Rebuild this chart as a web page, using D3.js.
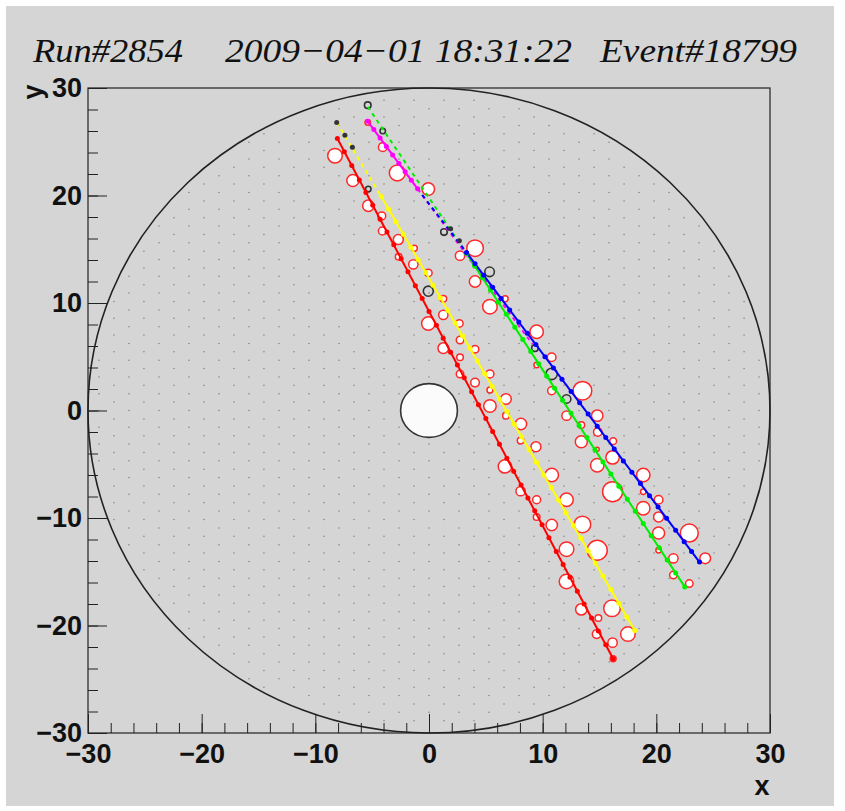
<!DOCTYPE html>
<meta charset="utf-8">
<head>
<script src="https://d3js.org/d3.v7.min.js"></script>
<style>
  body { margin: 0; background: #ffffff; }
  .tick text { font-family: "Liberation Sans", Arial, sans-serif; font-weight: bold; font-size: 27px; fill: #111; }
</style>
</head>
<body>
<svg id="my_dataviz" width="845" height="811"></svg>
<script>
// ---- event data (cm) ----
var titleParts = ["Run#2854", "2009\u221204\u221201 18:31:22", "Event#18799"];
var axisTicks = [-30, -20, -10, 0, 10, 20, 30];

// track fit lines: [start, end]
var redLine = [[-8.06, 25.3], [16.2, -23.1]];
var yellowDashed = [[-8.12, 26.8], [-4.2, 19.9]];
var yellowLine = [[-4.2, 19.9], [18.1, -20.46]];
var greenDashed = [[-5.39, 28.26], [3.3, 14.6]];
var greenLine = [[3.3, 14.6], [22.5, -16.41]];
var magentaLine = [[-5.39, 26.9], [-1.0, 20.62]];
var magentaDashed = [[-1.0, 20.62], [9.1, 6.18]];
var blueDashed = [[-0.6, 20.05], [3.3, 14.7]];
var blueLine = [[3.3, 14.7], [23.8, -14.1]];

// hits on each track
var redHits = [[-8.06,25.3],[-7.45,24.08],[-6.8,22.79],[-6.13,21.45],[-5.55,20.29],[-4.95,19.1],[-4.3,17.8],[-3.7,16.6],
  [-3.1,15.41],[-2.45,14.11],[-1.85,12.91],[-1.2,11.61],[-0.6,10.42],[0.0,9.22],[0.65,7.92],[1.25,6.73],[1.9,5.43],
  [2.5,4.23],[3.1,3.04],[3.75,1.74],[4.35,0.54],[5.0,-0.75],[5.6,-1.95],[6.2,-3.15],[6.85,-4.45],[7.45,-5.64],
  [8.1,-6.94],[8.7,-8.14],[9.3,-9.33],[9.95,-10.63],[10.55,-11.83],[11.2,-13.12],[11.8,-14.32],[12.4,-15.52],
  [13.05,-16.81],[13.65,-18.01],[14.3,-19.31],[14.9,-20.51],[15.55,-21.8],[16.2,-23.1]];
var yellowHits = [[-4.2,19.9],[-3.55,18.72],[-2.9,17.55],[-2.25,16.37],[-1.6,15.19],[-0.95,14.02],[-0.3,12.84],
  [0.35,11.66],[1.0,10.49],[1.65,9.31],[2.3,8.13],[2.95,6.96],[3.6,5.78],[4.25,4.61],[4.9,3.43],[5.55,2.25],
  [6.2,1.08],[6.85,-0.1],[7.5,-1.28],[8.15,-2.45],[8.8,-3.63],[9.45,-4.81],[10.1,-5.98],[10.75,-7.16],[11.4,-8.34],
  [12.05,-9.51],[12.7,-10.69],[13.35,-11.87],[14.0,-13.04],[14.65,-14.22],[15.3,-15.4],[16.0,-16.66],[16.7,-17.93],
  [17.4,-19.2],[18.1,-20.46]];
var greenHits = [[3.3,14.6],[4.0,13.47],[4.7,12.34],[5.4,11.21],[6.1,10.08],[6.8,8.95],[7.55,7.74],[8.25,6.61],
  [8.95,5.48],[9.65,4.34],[10.35,3.21],[11.05,2.08],[11.75,0.95],[12.5,-0.26],[13.2,-1.39],[13.9,-2.52],[14.6,-3.65],
  [15.3,-4.78],[16.0,-5.91],[16.7,-7.04],[17.45,-8.25],[18.15,-9.38],[18.85,-10.51],[19.55,-11.64],[20.25,-12.77],
  [20.95,-13.9],[21.7,-15.12],[22.5,-16.41]];
var blueHits = [[3.3,14.7],[4.05,13.65],[4.8,12.59],[5.6,11.47],[6.35,10.42],[7.1,9.36],[7.9,8.24],[8.65,7.18],
  [9.4,6.13],[10.2,5.01],[10.95,3.95],[11.7,2.9],[12.5,1.77],[13.25,0.72],[14.0,-0.33],[14.8,-1.46],[15.55,-2.51],
  [16.3,-3.57],[17.1,-4.69],[17.85,-5.74],[18.6,-6.8],[19.4,-7.92],[20.15,-8.97],[20.9,-10.03],[21.7,-11.15],
  [22.45,-12.21],[23.1,-13.12],[23.8,-14.1]];
var magentaHits = [[-5.39,26.9],[-4.85,26.13],[-4.3,25.34],[-3.75,24.56],[-3.2,23.77],[-2.65,22.98],[-2.1,22.2],
  [-1.55,21.41],[-1.0,20.62]];
var blackHits = [[-8.12,26.8],[-6.74,24.5],[2.67,15.8],[1.9,16.9],[-7.4,25.6]];

// drift circles [x, y, radius]
var redCircles = [[-8.27,23.7,0.64],[-4.07,24.5,0.38],[-5.39,26.8,0.24],[-2.79,22.1,0.70],[-6.7,21.4,0.53],
  [-0.06,20.6,0.55],[-5.34,19.05,0.50],[-4.16,18.1,0.35],[-4.1,16.7,0.35],[-2.7,15.9,0.44],[-1.29,15.1,0.26],
  [-2.67,14.3,0.29],[-1.38,13.6,0.41],[4.05,15.1,0.73],[2.73,14.4,0.41],[4.05,12.0,0.50],[5.36,9.66,0.64],
  [-0.06,12.8,0.33],[1.26,10.4,0.29],[-0.06,8.1,0.59],[1.26,8.9,0.41],[2.67,8.1,0.33],[2.73,6.56,0.33],
  [1.26,5.8,0.47],[4.05,5.7,0.33],[2.73,4.95,0.29],[2.73,3.4,0.33],[4.05,2.6,0.38],[5.36,3.4,0.35],[5.36,1.9,0.26],
  [6.77,1.07,0.47],[5.36,0.42,0.55],[6.77,-0.48,0.29],[8.09,-1.26,0.50],[8.06,-2.8,0.29],[9.41,-3.37,0.44],
  [9.47,7.33,0.59],[9.47,4.23,0.24],[10.79,4.95,0.38],[10.79,1.84,0.35],[13.5,1.84,0.82],[12.1,-0.48,0.41],
  [14.8,-0.48,0.50],[13.4,-2.9,0.53],[14.85,-2.0,0.37],[16.2,-2.85,0.30],[13.4,-1.35,0.29],[14.8,-3.6,0.18],
  [16.15,-4.36,0.59],[14.8,-5.1,0.59],[18.85,-6.0,0.59],[16.15,-7.55,0.88],[18.85,-7.55,0.24],[20.2,-8.3,0.38],
  [18.85,-9.1,0.59],[20.2,-9.9,0.44],[20.2,-11.4,0.53],[22.9,-11.4,0.79],[20.2,-13.0,0.24],[21.5,-13.75,0.41],
  [24.3,-13.75,0.47],[21.5,-15.3,0.33],[22.9,-16.1,0.33],[12.1,-8.3,0.59],[13.5,-10.6,0.73],[12.1,-12.9,0.64],
  [14.8,-13.0,0.88],[12.1,-15.9,0.64],[6.68,-5.2,0.59],[10.8,-6.0,0.59],[8.06,-7.5,0.41],[9.47,-8.3,0.35],
  [9.47,-9.9,0.29],[10.8,-10.65,0.50],[13.4,-18.5,0.50],[16.1,-18.4,0.73],[14.9,-19.3,0.29],[14.75,-20.8,0.38],
  [17.5,-20.8,0.64],[16.15,-21.6,0.41],[16.2,-23.1,0.26],[6.7,10.4,0.26]];
var blackCircles = [[-5.39,28.4,0.29],[-4.07,26.0,0.24],[-5.34,20.6,0.24],[1.32,16.6,0.29],[5.33,12.9,0.42],
  [-0.06,11.1,0.44],[9.32,5.8,0.29],[10.79,3.4,0.5],[12.1,1.07,0.38]];

var chamberRadius = 30, holeRadius = 2.5;

// ---- drawing ----
var svg = d3.select("svg");

svg.append("rect").attr("x", 6).attr("y", 6).attr("width", 828).attr("height", 800)
  .attr("fill", "#d5d5d5");

var x = d3.scaleLinear().domain([-30, 30]).range([88, 770]);
var y = d3.scaleLinear().domain([-30, 30]).range([733, 88]);
var rx = function(r) { return x(r) - x(0); };
var ry = function(r) { return y(0) - y(r); };

// title (three pieces, stretched like the original)
var titleX = [33, 225, 600];
var titleW = [150, 347, 197];
svg.selectAll(".title").data(titleParts).enter().append("text")
  .attr("class", "title")
  .attr("x", function(d, i) { return titleX[i]; })
  .attr("y", 62)
  .attr("textLength", function(d, i) { return titleW[i]; })
  .attr("lengthAdjust", "spacingAndGlyphs")
  .style("font-family", "'Liberation Serif', 'Times New Roman', serif")
  .style("font-style", "italic")
  .style("font-size", "34px")
  .attr("fill", "#111")
  .text(function(d) { return d; });

// wire grid (hexagonal) inside chamber
var wires = [];
var colStep = 1.32, rowStep = 1.56;
for (var i = -24; i <= 24; i++) {
  for (var j = -21; j <= 21; j++) {
    var wx = i * colStep, wy = j * rowStep + (i % 2 ? rowStep / 2 : 0);
    var rr = Math.sqrt(wx * wx + wy * wy);
    if (rr < chamberRadius - 0.4 && rr > holeRadius + 0.3) wires.push([wx, wy]);
  }
}
svg.append("g").selectAll("circle").data(wires).enter().append("circle")
  .attr("cx", function(d) { return x(d[0]); })
  .attr("cy", function(d) { return y(d[1]); })
  .attr("r", 0.75)
  .attr("fill", "#808080");

// chamber outline and inner hole
svg.append("ellipse").attr("cx", x(0)).attr("cy", y(0))
  .attr("rx", rx(chamberRadius)).attr("ry", ry(chamberRadius))
  .attr("fill", "none").attr("stroke", "#222").attr("stroke-width", 1.6);
svg.append("ellipse").attr("cx", x(0)).attr("cy", y(0))
  .attr("rx", rx(holeRadius)).attr("ry", ry(holeRadius))
  .attr("fill", "#fbfbfb").attr("stroke", "#333").attr("stroke-width", 1.6);

// drift circles
svg.append("g").selectAll("circle").data(redCircles).enter().append("circle")
  .attr("cx", function(d) { return x(d[0]); })
  .attr("cy", function(d) { return y(d[1]); })
  .attr("r", function(d) { return rx(d[2]); })
  .attr("fill", "#ffffff").attr("stroke", "#ff2828").attr("stroke-width", 1.5);
svg.append("g").selectAll("circle").data(blackCircles).enter().append("circle")
  .attr("cx", function(d) { return x(d[0]); })
  .attr("cy", function(d) { return y(d[1]); })
  .attr("r", function(d) { return rx(d[2]); })
  .attr("fill", "none").attr("stroke", "#333").attr("stroke-width", 1.6);

// tracks
var line = d3.line().x(function(d) { return x(d[0]); }).y(function(d) { return y(d[1]); });
var tracks = [
  { pts: greenDashed, color: "#00ee00", dash: "4,4" },
  { pts: yellowDashed, color: "#ffff00", dash: "4,4" },
  { pts: magentaLine, color: "#ff00ff", dash: null },
  { pts: magentaDashed, color: "#ff00ff", dash: "4,4" },
  { pts: blueDashed, color: "#0000ff", dash: "4,4" },
  { pts: redLine, color: "#ff0000", dash: null },
  { pts: yellowLine, color: "#ffff00", dash: null },
  { pts: greenLine, color: "#00ee00", dash: null },
  { pts: blueLine, color: "#0000ff", dash: null }
];
svg.append("g").selectAll("path").data(tracks).enter().append("path")
  .attr("d", function(d) { return line(d.pts); })
  .attr("fill", "none")
  .attr("stroke", function(d) { return d.color; })
  .attr("stroke-width", 2)
  .attr("stroke-dasharray", function(d) { return d.dash; });

var hitSets = [
  { pts: redHits, color: "#ff0000" },
  { pts: yellowHits, color: "#ffff00" },
  { pts: greenHits, color: "#00ee00" },
  { pts: blueHits, color: "#0000ff" },
  { pts: magentaHits, color: "#ff00ff" },
  { pts: blackHits, color: "#333333" }
];
hitSets.forEach(function(s) {
  svg.append("g").selectAll("circle").data(s.pts).enter().append("circle")
    .attr("cx", function(d) { return x(d[0]); })
    .attr("cy", function(d) { return y(d[1]); })
    .attr("r", 2.5)
    .attr("fill", s.color);
});

// frame
svg.append("rect").attr("x", x(-30)).attr("y", y(30))
  .attr("width", x(30) - x(-30)).attr("height", y(-30) - y(30))
  .attr("fill", "none").attr("stroke", "#222").attr("stroke-width", 1.2);

// axes: major ticks inside, minor every 2
var minorTicks = d3.range(-30, 31, 2);
svg.append("g").attr("transform", "translate(0," + y(-30) + ")")
  .call(d3.axisBottom(x).tickValues(minorTicks).tickSize(-10).tickSizeOuter(0).tickFormat(""))
  .call(function(g) { g.select(".domain").remove(); g.selectAll("line").attr("stroke", "#222"); });
svg.append("g").attr("transform", "translate(0," + y(-30) + ")")
  .call(d3.axisBottom(x).tickValues(axisTicks).tickSize(-19).tickSizeOuter(0).tickPadding(6))
  .call(function(g) { g.select(".domain").remove(); g.selectAll("line").attr("stroke", "#222");
    g.selectAll("text").attr("dy", "0.9em"); });

svg.append("g").attr("transform", "translate(" + x(-30) + ",0)")
  .call(d3.axisLeft(y).tickValues(minorTicks).tickSize(-10).tickSizeOuter(0).tickFormat(""))
  .call(function(g) { g.select(".domain").remove(); g.selectAll("line").attr("stroke", "#222"); });
svg.append("g").attr("transform", "translate(" + x(-30) + ",0)")
  .call(d3.axisLeft(y).tickValues(axisTicks).tickSize(-19).tickSizeOuter(0).tickPadding(6))
  .call(function(g) { g.select(".domain").remove(); g.selectAll("line").attr("stroke", "#222"); });

// axis titles
svg.append("text").attr("x", 762).attr("y", 795)
  .attr("text-anchor", "middle")
  .style("font-family", "'Liberation Sans', Arial, sans-serif")
  .style("font-weight", "bold").style("font-size", "27px").attr("fill", "#111")
  .text("x");
svg.append("text").attr("transform", "translate(42,92) rotate(-90)")
  .attr("text-anchor", "middle")
  .style("font-family", "'Liberation Sans', Arial, sans-serif")
  .style("font-weight", "bold").style("font-size", "27px").attr("fill", "#111")
  .text("y");
</script>
</body>
